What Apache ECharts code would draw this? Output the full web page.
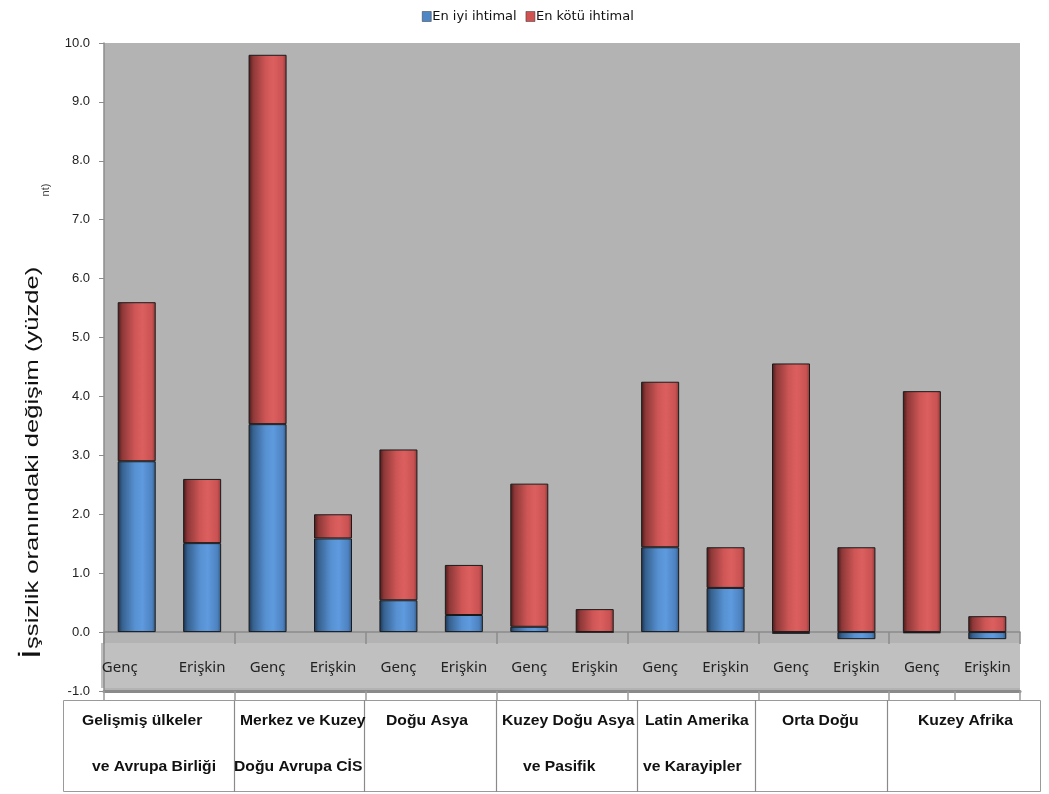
<!DOCTYPE html>
<html>
<head>
<meta charset="utf-8">
<script src="https://cdn.jsdelivr.net/npm/echarts@6/dist/echarts.min.js"></script>
<style>
html,body{margin:0;padding:0;background:#fff;}
#c{width:1049px;height:794px;}
</style>
</head>
<body>
<div id="c"></div>
<script>
// ---- data ----
const categories = ['Genç','Erişkin','Genç','Erişkin','Genç','Erişkin','Genç','Erişkin','Genç','Erişkin','Genç','Erişkin','Genç','Erişkin'];
const seriesNames = ['En iyi ihtimal','En kötü ihtimal'];
const bestCase  = [2.90, 1.51, 3.53, 1.59, 0.54, 0.29, 0.09, 0.00, 1.44, 0.75, -0.03, -0.12, -0.02, -0.12];
const worstCase = [2.70, 1.09, 6.27, 0.41, 2.56, 0.85, 2.43, 0.39, 2.81, 0.69, 4.56, 1.44, 4.09, 0.27];
const groupLine1 = ['Gelişmiş ülkeler','Merkez ve Kuzey','Doğu Asya','Kuzey Doğu Asya','Latin Amerika','Orta Doğu','Kuzey Afrika'];
const groupLine2 = ['ve Avrupa Birliği','Doğu Avrupa CİS','','ve Pasifik','ve Karayipler','',''];
const yTitle = 'İşsizlik oranındaki değişim (yüzde)';
const yTitleFragment = 'nt)';

// ---- layout (not data) ----
const tableX1 = [82, 240, 386, 502, 645, 782, 918];
const tableX2 = [92, 234, 386, 523, 643, 782, 918];
const tableDividers = [234, 364, 496, 637, 755, 887];

const chart = echarts.init(document.getElementById('c'), null, {renderer:'canvas'});

function grad(stops){
  return new echarts.graphic.LinearGradient(0,0,1,0, stops.map(c=>({offset:c[0], color:c[1]})));
}
const blueGrad = grad([[0,'#1b3350'],[0.12,'#36618f'],[0.45,'#5791d2'],[0.65,'#5e9ade'],[0.9,'#4d82c0'],[1,'#33577f']]);
const redGrad  = grad([[0,'#4a1818'],[0.12,'#8e3838'],[0.45,'#cf5656'],[0.65,'#dc5f5f'],[0.9,'#c95252'],[1,'#8c3838']]);

const graphics = [
  {type:'rect', z:-2, shape:{x:104, y:43, width:916, height:648}, style:{fill:'#b3b3b3'}},
  {type:'rect', z:-1, shape:{x:101, y:643, width:919, height:45}, style:{fill:'#c0c0c0'}},
  {type:'rect', shape:{x:63.5, y:700.5, width:977, height:91}, style:{fill:'#fff', stroke:'#9a9a9a', lineWidth:1}},
  {type:'text', x:33, y:463, rotation:Math.PI/2, scaleX:1.42, style:{
      text:'{a|' + yTitle.charAt(0) + '}{b|' + yTitle.slice(1) + '}',
      align:'center', verticalAlign:'middle', fill:'#111',
      rich:{a:{fontSize:26, fontFamily:'Liberation Sans', fill:'#111'}, b:{fontSize:18, fontFamily:'Liberation Sans', fill:'#111'}}
  }},
  {type:'text', x:46, y:190, rotation:Math.PI/2, style:{text:yTitleFragment, fontSize:11, fontFamily:'Liberation Sans', fill:'#444', align:'center', verticalAlign:'middle'}}
];
tableDividers.forEach(x=>{
  graphics.push({type:'line', shape:{x1:x+0.5, y1:700, x2:x+0.5, y2:792}, style:{stroke:'#8a8a8a', lineWidth:1.2}});
});
groupLine1.forEach((t,i)=>{
  graphics.push({type:'text', x:tableX1[i], y:721, scaleX:1.12, style:{text:t, fontSize:14, fontWeight:'bold', fontFamily:'Liberation Sans', fill:'#111', verticalAlign:'middle'}});
  if (groupLine2[i]) graphics.push({type:'text', x:tableX2[i], y:767, scaleX:1.12, style:{text:groupLine2[i], fontSize:14, fontWeight:'bold', fontFamily:'Liberation Sans', fill:'#111', verticalAlign:'middle'}});
});

const option = {
  animation:false,
  backgroundColor:'#fff',
  legend:{
    top:5, left:417, itemWidth:9, itemHeight:10, itemGap:9,
    icon:'rect',
    textStyle:{fontSize:13, fontFamily:'DejaVu Sans', color:'#111', padding:[0,0,0,-4]},
    data:[
      {name:seriesNames[0], itemStyle:{color:'#4f86c6', borderColor:'#333', borderWidth:0.5}},
      {name:seriesNames[1], itemStyle:{color:'#cf5353', borderColor:'#333', borderWidth:0.5}}
    ]
  },
  grid:{left:104, right:29, top:43, bottom:103, containLabel:false},
  xAxis:[
    {
      type:'category', data:categories, boundaryGap:true,
      axisLine:{onZero:true, lineStyle:{color:'#8c8c8c', width:1.5}},
      axisTick:{show:true, interval:1, length:12, lineStyle:{color:'#8c8c8c', width:1.5}},
      axisLabel:{show:false}
    },
    {
      type:'category', data:categories, position:'bottom', boundaryGap:true,
      axisLine:{onZero:false, lineStyle:{color:'#8a8a8a', width:3}},
      axisTick:{show:true, interval:1, length:10, lineStyle:{color:'#9a9a9a', width:1.5}},
      axisLabel:{show:true, inside:true, interval:0, margin:16, fontSize:15, fontFamily:'Noto Sans', color:'#222',
        formatter:(v,i)=> i===0 ? '{f|' + v + '}' : v,
        rich:{f:{fontSize:15, fontFamily:'Noto Sans', color:'#222', padding:[0,34,0,0]}}}
    }
  ],
  yAxis:{
    type:'value', min:-1, max:10, interval:1,
    axisLine:{show:true, lineStyle:{color:'#8c8c8c', width:1.5}},
    axisTick:{show:true, length:5, lineStyle:{color:'#8c8c8c'}},
    splitLine:{show:false},
    axisLabel:{margin:14, fontSize:13, fontFamily:'Liberation Sans', color:'#222', formatter:v=>v.toFixed(1)}
  },
  graphic:graphics,
  series:[
    {name:seriesNames[0], type:'bar', stack:'s', data:bestCase, barWidth:38,
     itemStyle:{color:blueGrad, borderColor:'#1a1a1a', borderWidth:1}},
    {name:seriesNames[1], type:'bar', stack:'s', data:worstCase, barWidth:38,
     itemStyle:{color:redGrad, borderColor:'#1a1a1a', borderWidth:1}}
  ]
};
chart.setOption(option);
</script>
</body>
</html>
